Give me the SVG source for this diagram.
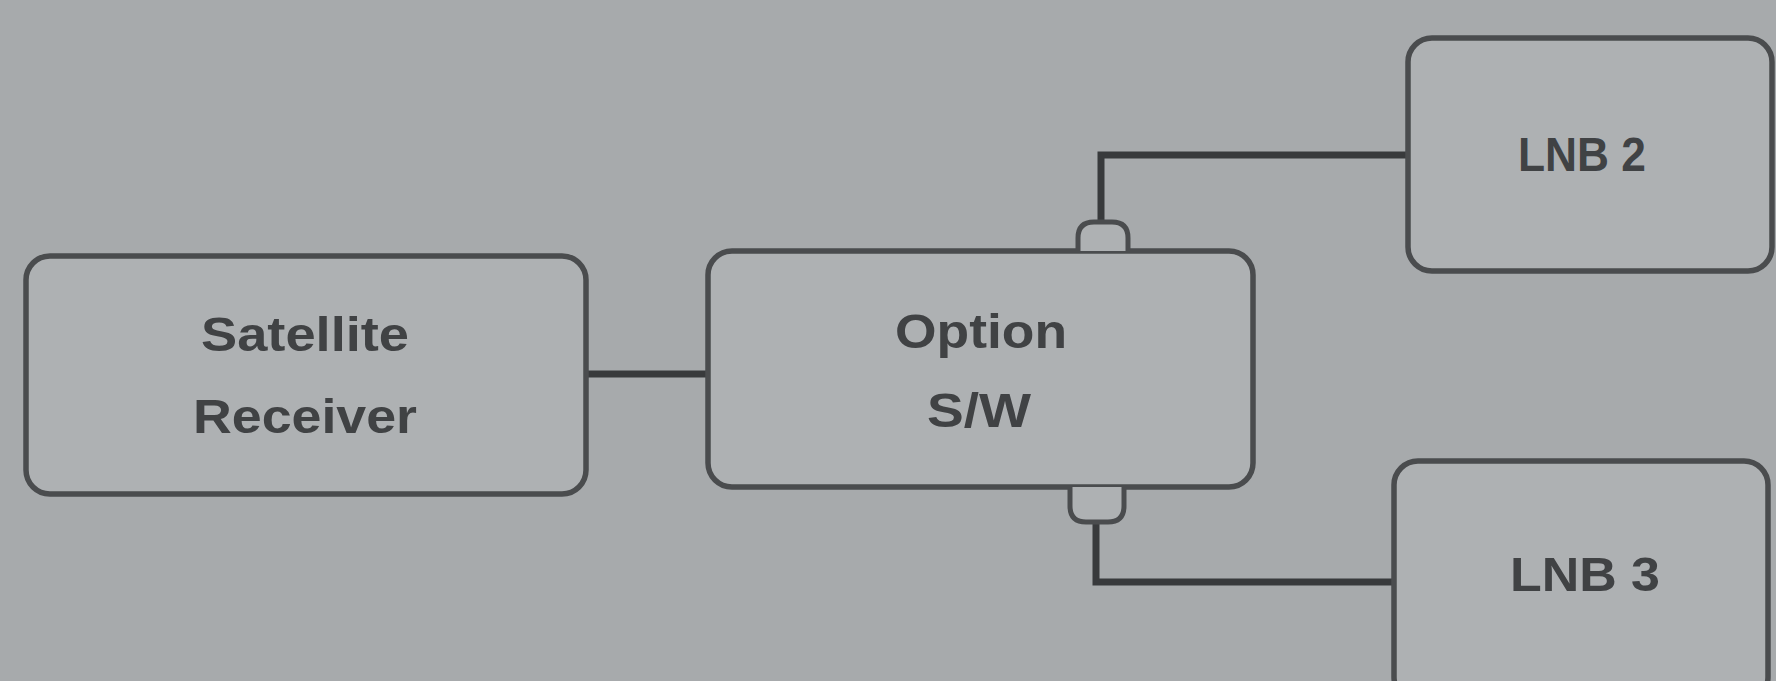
<svg xmlns="http://www.w3.org/2000/svg" width="1776" height="681" viewBox="0 0 1776 681">
  <defs>
    <style>
      .box { fill: #aeb1b3; stroke: #4a4c4e; stroke-width: 5.5; }
      .port { fill: #aeb1b3; stroke: #4a4c4e; stroke-width: 5; }
      .wire { fill: none; stroke: #383a3c; stroke-width: 7; stroke-linejoin: miter; }
      .lbl { font-family: "Liberation Sans", Arial, sans-serif; font-weight: bold; font-size: 48px; fill: #404244; text-anchor: middle; }
    </style>
  </defs>
  <rect width="1776" height="681" fill="#a7aaac"/>

  <g id="connectors">
    <line class="wire" x1="586" y1="374" x2="706" y2="374"/>
    <polyline class="wire" points="1101,222 1101,155 1408,155"/>
    <polyline class="wire" points="1096,522 1096,582 1394,582"/>
  </g>

  <g id="satellite-receiver">
    <rect class="box" x="26" y="256" width="560" height="238" rx="24"/>
    <text class="lbl" x="305" y="351" textLength="208" lengthAdjust="spacingAndGlyphs">Satellite</text>
    <text class="lbl" x="305" y="433" textLength="224" lengthAdjust="spacingAndGlyphs">Receiver</text>
  </g>

  <g id="option-sw">
    <rect class="box" x="708" y="251" width="545" height="236" rx="24"/>
    <path class="port" d="M1078 251 V238 Q1078 222 1094 222 H1112 Q1128 222 1128 238 V251"/>
    <path class="port" d="M1070 487 V506 Q1070 522 1086 522 H1108 Q1124 522 1124 506 V487"/>
    <text class="lbl" x="981" y="348" textLength="172" lengthAdjust="spacingAndGlyphs">Option</text>
    <text class="lbl" x="979" y="427" textLength="104" lengthAdjust="spacingAndGlyphs">S/W</text>
  </g>

  <g id="lnb2">
    <rect class="box" x="1408" y="38" width="364" height="233" rx="24"/>
    <text class="lbl" x="1582" y="171" textLength="128" lengthAdjust="spacingAndGlyphs">LNB 2</text>
  </g>

  <g id="lnb3">
    <rect class="box" x="1394" y="461" width="374" height="240" rx="24"/>
    <text class="lbl" x="1585" y="591" textLength="150" lengthAdjust="spacingAndGlyphs">LNB 3</text>
  </g>
</svg>
